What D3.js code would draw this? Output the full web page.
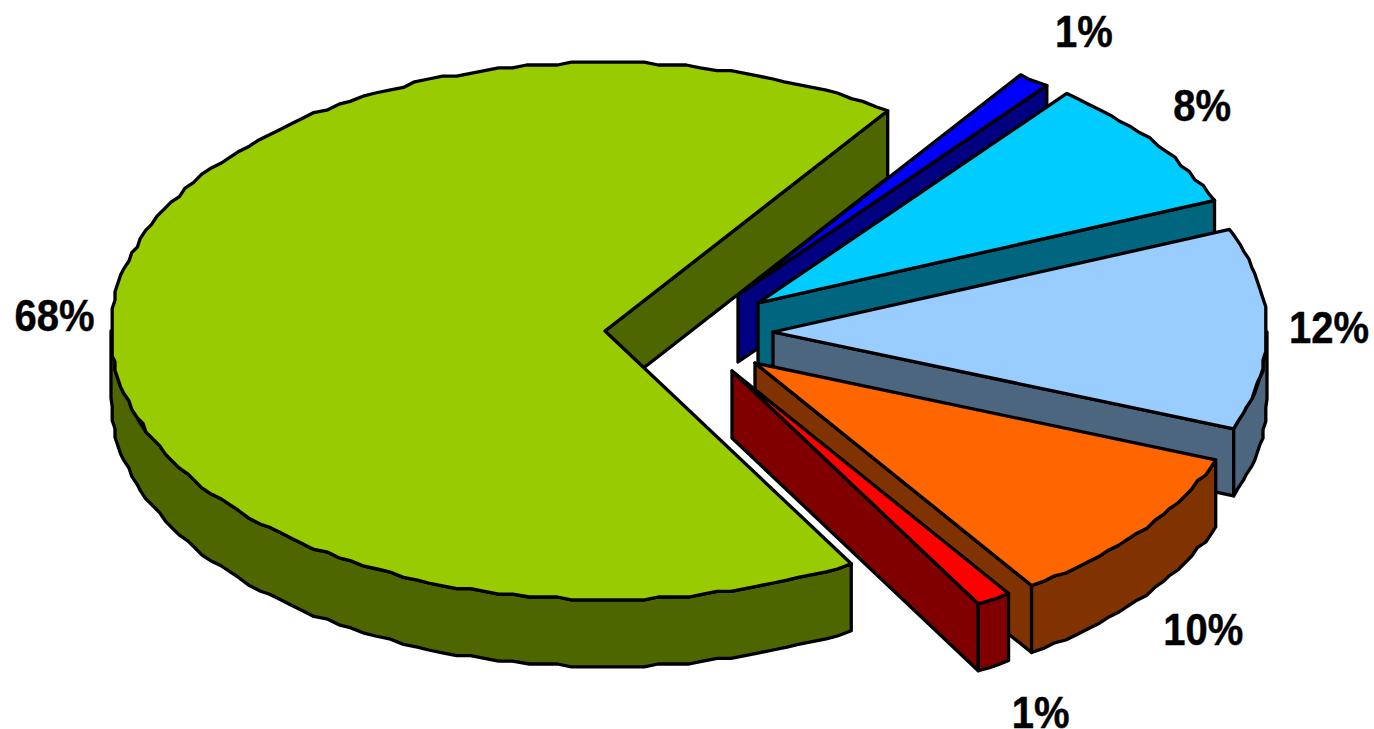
<!DOCTYPE html>
<html><head><meta charset="utf-8">
<script src="https://cdn.jsdelivr.net/npm/d3@7/dist/d3.min.js"></script>
<style>html,body{margin:0;padding:0;background:#fff;overflow:hidden}svg{display:block}
text{font-family:"Liberation Sans",Arial,sans-serif;font-weight:700;fill:#000;stroke:#000;stroke-width:.4}</style>
</head><body><svg id="c" width="1374" height="729"></svg>
<script>
// Data, in slice order, clockwise
const categories = ["A","B","C","D","E","F"];
const shares     = [67.9,1.05,8,12.1,9.65,1.15];
const labels     = ["68%","1%","8%","12%","10%","1%"];
// Styles
const topColors  = ["#99CC00","#0000FF","#00CCFF","#99CCFF","#FF6600","#FF0000"];
const wallColors = ["#4D6600","#000080","#006680","#4D6680","#803300","#800000"];
const apexX      = [605,738,758,773,755,732];
const apexY      = [331,295,303,332,363,371];
const labelDx    = [-57,50,49,62,62,47];
const labelDy    = [-4,-48,-36,-1,99,114];
const radiusX = 494, radiusY = 268.5, depth = 67, fontSize = 40, grid = 2.8;
const deg = Math.PI/180;

const svg = d3.select("#c");
const pie = d3.pie().sort(null).value(d=>d)
  .startAngle(150.1*deg).endAngle((150.1+360)*deg);
const arcs = pie(shares);
const line = d3.line();
const unitX = d3.scaleLinear().domain([0,1]).range([0,radiusX]);
const unitY = d3.scaleLinear().domain([0,1]).range([0,radiusY]);
const snap = v => Math.round(v/grid)*grid;
const rim = (i,t,dz=0,exact=false) => {
  const x = unitX(Math.sin(t)), y = unitY(-Math.cos(t));
  return exact ? [apexX[i]+x, apexY[i]+y+dz] : [apexX[i]+snap(x), apexY[i]+snap(y)+dz];
};
const sample = (a,b) => {
  const n = Math.max(1,Math.ceil((b-a)/(1.7*deg)));
  return d3.range(n+1).map(k=>a+(b-a)*k/n);
};
const rimPath = (i,a,b,dz=0) => sample(a,b).map((t,k,ts)=>rim(i,t,dz,k===0||k===ts.length-1));
const draw = (pts,fill) => svg.append("path").attr("d",line(pts)+"Z")
  .attr("fill",fill).attr("stroke","#000").attr("stroke-width",3.3).attr("stroke-linejoin","round");

categories.forEach((c,i)=>{
  const a = arcs[i].startAngle, b = arcs[i].endAngle;
  const apex = [apexX[i],apexY[i]];
  const e = rim(i,b,0,true);
  draw([apex,e,[e[0],e[1]+depth],[apex[0],apex[1]+depth]],wallColors[i]);
  [[90*deg,270*deg],[450*deg,630*deg]].forEach(([lo,hi])=>{
    const s = Math.max(a,lo), f = Math.min(b,hi);
    if (f>s) draw(rimPath(i,s,f).concat(rimPath(i,s,f,depth).reverse()),wallColors[i]);
  });
  draw([apex].concat(rimPath(i,a,b)),topColors[i]);
});
categories.forEach((c,i)=>{
  const m = (arcs[i].startAngle+arcs[i].endAngle)/2;
  const p = rim(i,m,0,true);
  svg.append("text")
    .attr("transform",`translate(${p[0]+labelDx[i]},${p[1]+labelDy[i]}) scale(1,1.09)`)
    .attr("dy",".35em").attr("text-anchor","middle").attr("font-size",fontSize).text(labels[i]);
});
</script></body></html>
